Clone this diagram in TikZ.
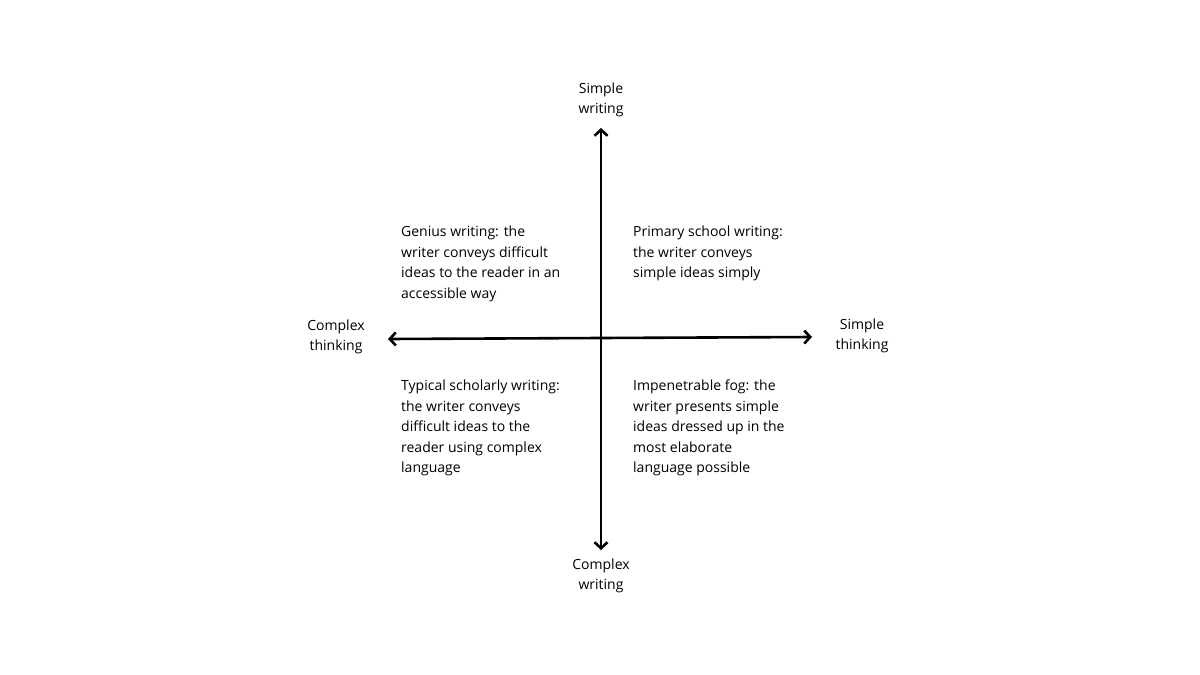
\documentclass[tikz,border=0pt]{standalone}
\usepackage{fontspec}
\setmainfont{Open Sans}
\usetikzlibrary{arrows.meta}
\begin{document}
\begin{tikzpicture}[x=1pt,y=-1pt,
  lbl/.style={align=center,font=\fontsize{14}{20.5}\selectfont,inner sep=0},
  quad/.style={align=left,anchor=north west,font=\fontsize{14}{20.5}\selectfont,inner sep=0},
  axis/.style={line width=2.6pt,{Straight Barb[length=6pt,width=13pt,line width=2.6pt]}-{Straight Barb[length=6pt,width=13pt,line width=2.6pt]}}]
\useasboundingbox[fill=white] (0,0) rectangle (1200,675);
\coordinate (top) at (601,128);
\coordinate (bot) at (601,550);
\coordinate (lft) at (388,339);
\coordinate (rgt) at (812,337);
\draw[axis] (bot) -- (top);
\draw[axis] (lft) -- (rgt);
\node[lbl] (sw) at (601,100) {Simple\\writing};
\node[lbl] (cw) at (601,576) {Complex\\writing};
\node[lbl] (ct) at (336,337) {Complex\\thinking};
\node[lbl] (st) at (862,336) {Simple\\thinking};
\node[quad] (q1) at (401,226) {Genius writing: the\\writer conveys difficult\\ideas to the reader in an\\accessible way};
\node[quad] (q2) at (633,226) {Primary school writing:\\the writer conveys\\simple ideas simply};
\node[quad] (q3) at (401,380) {Typical scholarly writing:\\the writer conveys\\difficult ideas to the\\reader using complex\\language};
\node[quad] (q4) at (633,380) {Impenetrable fog: the\\writer presents simple\\ideas dressed up in the\\most elaborate\\language possible};
\end{tikzpicture}
\end{document}
